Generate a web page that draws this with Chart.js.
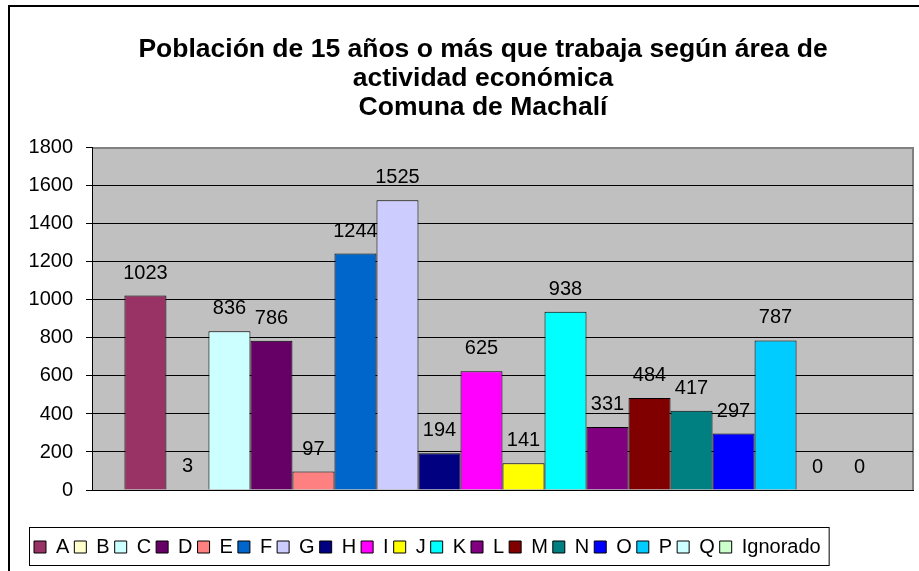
<!DOCTYPE html>
<html lang="es">
<head>
<meta charset="utf-8">
<title>Población de 15 años o más que trabaja - Machalí</title>
<script src="https://cdn.jsdelivr.net/npm/chart.js@4.4.0/dist/chart.umd.min.js"></script>
<style>
  html, body { margin: 0; padding: 0; background: #fff; }
  canvas { display: block; }
</style>
</head>
<body>
<canvas id="graficoMachali" width="919" height="571"></canvas>
<script>
const titulo = ['Población de 15 años o más que trabaja según área de', 'actividad económica', 'Comuna de Machalí'];
const areas = ['A', 'B', 'C', 'D', 'E', 'F', 'G', 'H', 'I', 'J', 'K', 'L', 'M', 'N', 'O', 'P', 'Q', 'Ignorado'];
const trabajadores = [1023, 3, 836, 786, 97, 1244, 1525, 194, 625, 141, 938, 331, 484, 417, 297, 787, 0, 0];
const colores = ['#993366', '#FFFFCC', '#CCFFFF', '#660066', '#FF8080', '#0066CC', '#CCCCFF', '#000080', '#FF00FF',
  '#FFFF00', '#00FFFF', '#800080', '#800000', '#008080', '#0000FF', '#00CCFF', '#CCFFFF', '#CCFFCC'];
const ejeYMax = 1800;
const ejeYPaso = 200;

const fuente = "'Liberation Sans', Arial, sans-serif";

// fondo gris del área de trazado y marco exterior del gráfico
const fondoPlugin = {
  id: 'fondo',
  beforeDraw(chart) {
    const { ctx, chartArea: a } = chart;
    ctx.save();
    ctx.fillStyle = '#c0c0c0';
    ctx.fillRect(a.left, a.top, a.right - a.left, a.bottom - a.top);
    ctx.strokeStyle = '#808080';
    ctx.lineWidth = 2;
    ctx.beginPath();
    ctx.moveTo(a.left, a.top);
    ctx.lineTo(a.right, a.top);
    ctx.lineTo(a.right, a.bottom);
    ctx.stroke();
    ctx.strokeStyle = '#000';
    ctx.lineWidth = 2;
    ctx.strokeRect(9, 6, chart.width + 20, chart.height + 20);
    ctx.restore();
  }
};

// valores encima de cada barra
const etiquetasPlugin = {
  id: 'etiquetas',
  afterDatasetsDraw(chart) {
    const ctx = chart.ctx;
    ctx.save();
    ctx.font = '20px ' + fuente;
    ctx.fillStyle = '#000';
    ctx.textAlign = 'center';
    ctx.textBaseline = 'alphabetic';
    chart.data.datasets.forEach((ds, i) => {
      const barra = chart.getDatasetMeta(i).data[0];
      ctx.fillText(ds.data[0], barra.x, barra.y - 17);
    });
    ctx.restore();
  }
};

// recuadro alrededor de la leyenda
const marcoLeyenda = {
  id: 'marcoLeyenda',
  afterDraw(chart) {
    const lg = chart.legend;
    const cajas = lg.legendHitBoxes;
    const ultima = cajas[cajas.length - 1];
    const ctx = chart.ctx;
    ctx.save();
    ctx.strokeStyle = '#000';
    ctx.lineWidth = 1;
    ctx.strokeRect(lg.left + 0.5, lg.top - 4.5, ultima.left + ultima.width + 8 - lg.left, 38);
    ctx.restore();
  }
};

// el título de Excel queda algo más a la derecha
const tituloPlugin = {
  id: 'moverTitulo',
  afterLayout(chart) {
    if (chart.titleBlock) chart.titleBlock.left += 24;
  }
};

new Chart(document.getElementById('graficoMachali'), {
  type: 'bar',
  data: {
    labels: [''],
    datasets: areas.map((area, i) => ({
      label: area,
      data: [trabajadores[i]],
      backgroundColor: colores[i],
      borderColor: '#000',
      borderWidth: 1,
      categoryPercentage: 0.921,
      barPercentage: 1
    }))
  },
  options: {
    responsive: false,
    animation: false,
    devicePixelRatio: 1,
    layout: { padding: { top: 0, left: 29, right: 6, bottom: 4 } },
    scales: {
      x: {
        grid: { display: false },
        ticks: { display: false },
        border: { color: '#000', width: 1 },
        afterFit(scale) { scale.height = 42; }
      },
      y: {
        min: 0,
        max: ejeYMax,
        ticks: {
          stepSize: ejeYPaso,
          color: '#000',
          padding: 13,
          font: { family: fuente, size: 20 },
          callback: v => String(v)
        },
        grid: {
          color: ctx => (ctx.tick && ctx.tick.value === ejeYMax ? '#808080' : '#000'),
          tickColor: '#000',
          tickLength: 6
        },
        border: { color: '#000', width: 1 },
        afterFit(scale) { scale.width = 63; }
      }
    },
    plugins: {
      title: {
        display: true,
        text: titulo,
        color: '#000',
        font: { family: fuente, size: 26.5, weight: 'bold', lineHeight: 1.1 },
        padding: { top: 35, bottom: 25.5 }
      },
      legend: {
        position: 'bottom',
        align: 'start',
        labels: {
          boxWidth: 12,
          boxHeight: 12,
          padding: 5,
          color: '#000',
          font: { family: fuente, size: 20 }
        }
      },
      tooltip: { enabled: false }
    }
  },
  plugins: [fondoPlugin, etiquetasPlugin, marcoLeyenda, tituloPlugin]
});
</script>
</body>
</html>
